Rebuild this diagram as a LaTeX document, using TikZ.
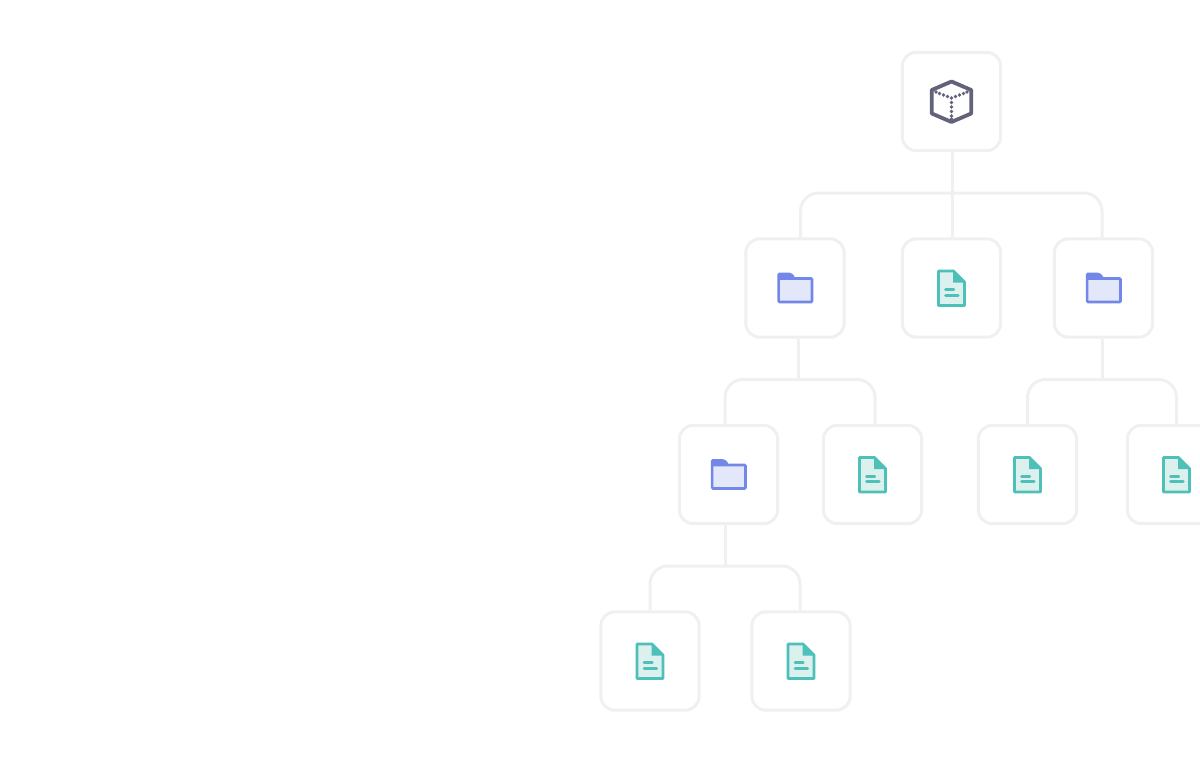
\documentclass[tikz,border=0pt]{standalone}
\usetikzlibrary{positioning}
\definecolor{linegray}{HTML}{F0F0F2}
\definecolor{cubegray}{HTML}{62637A}
\definecolor{folderblue}{HTML}{7387E8}
\definecolor{folderfill}{HTML}{E2E7F9}
\definecolor{docteal}{HTML}{4DC0BA}
\definecolor{docfill}{HTML}{DCF0EE}
\tikzset{
    itembox/.style={draw=linegray, line width=3pt, rounded corners=14pt, fill=white,
        minimum width=98.4pt, minimum height=98.4pt, inner sep=0pt},
    link/.style={draw=linegray, line width=3pt, rounded corners=18pt},
    folderitem/.pic={
        \fill[folderblue, rounded corners=1.5pt] (-17.7,-8) -- (-17.7,-15.3) -- (-4,-15.3) -- (0,-11.5) -- (-0,-8) -- cycle;
        \draw[folderblue, fill=folderfill, line width=2.6pt, rounded corners=1pt] (-16.4,-9.5) rectangle (17,14);
    },
    docitem/.pic={
        \draw[docteal, fill=docfill, line width=2.8pt, line join=round] (-13,-17) -- (2,-17) -- (13,-6) -- (13,17.5) -- (-13,17.5) -- cycle;
        \fill[docteal] (1.5,-18) -- (14.2,-5.5) -- (1.5,-5.5) -- cycle;
        \draw[docteal, line width=2.8pt, line cap=round] (-6,1.7) -- (2.3,1.7);
        \draw[docteal, line width=2.8pt, line cap=round] (-6,7.3) -- (6.7,7.3);
    },
    cubeitem/.pic={
        \draw[cubegray, line width=3.8pt, line join=round] (0,-20) -- (19.7,-11.5) -- (19.7,12) -- (0,20.5) -- (-19.7,12) -- (-19.7,-11.5) -- cycle;
        \foreach \dx/\dy in {0/-3.5, -4/-5, -8/-6.5, -12/-8, -15.5/-9.5, 4/-5, 8/-6.5, 12/-8, 15.5/-9.5, 0/1, 0/5.5, 0/10, 0/14.5, 0/17.5}
            \fill[cubegray] (\dx,\dy) circle (1.8);
    }
}
\begin{document}
\begin{tikzpicture}[x=1pt, y=-1pt]
    \useasboundingbox (0,0) rectangle (1200,768);
    \clip (0,0) rectangle (1200,768);

    % Nodes
    \node[itembox] (root) at (951.5,101.5) {};
    \node[itembox] (folderA) at (795,288) {};
    \node[itembox] (docA) at (951.5,288) {};
    \node[itembox] (folderB) at (1103.5,288) {};
    \node[itembox] (folderC) at (728.5,474.5) {};
    \node[itembox] (docB) at (872.5,474.5) {};
    \node[itembox] (docC) at (1027.5,474.5) {};
    \node[itembox] (docD) at (1176.5,474.5) {};
    \node[itembox] (docE) at (650,661) {};
    \node[itembox] (docF) at (801,661) {};

    % Links
    \draw[link] ([xshift=5.5pt]folderA.north) |- ([xshift=.5pt]root.south |- 0,193) -| ([xshift=-1.5pt]folderB.north);
    \draw[link] ([xshift=.5pt]root.south) -- ([xshift=.5pt]docA.north);
    \draw[link] ([xshift=-3.5pt]folderC.north) |- ([xshift=3pt]folderA.south |- 0,379.5) -| ([xshift=2.5pt]docB.north);
    \draw[link] ([xshift=3pt]folderA.south) -- ([xshift=3pt]folderA.south |- 0,379.5);
    \draw[link] (docC.north) |- ([xshift=-1pt]folderB.south |- 0,379.5) -| (docD.north);
    \draw[link] ([xshift=-1pt]folderB.south) -- ([xshift=-1pt]folderB.south |- 0,379.5);
    \draw[link] (docE.north) |- ([xshift=-3.5pt]folderC.south |- 0,566) -| ([xshift=-1pt]docF.north);
    \draw[link] ([xshift=-3.5pt]folderC.south) -- ([xshift=-3.5pt]folderC.south |- 0,566);

    % Icons
    \pic at (root) {cubeitem};
    \pic at (folderA) {folderitem};
    \pic at (folderB) {folderitem};
    \pic at (folderC) {folderitem};
    \pic at (docA) {docitem};
    \pic at (docB) {docitem};
    \pic at (docC) {docitem};
    \pic at (docD) {docitem};
    \pic at (docE) {docitem};
    \pic at (docF) {docitem};
\end{tikzpicture}
\end{document}
